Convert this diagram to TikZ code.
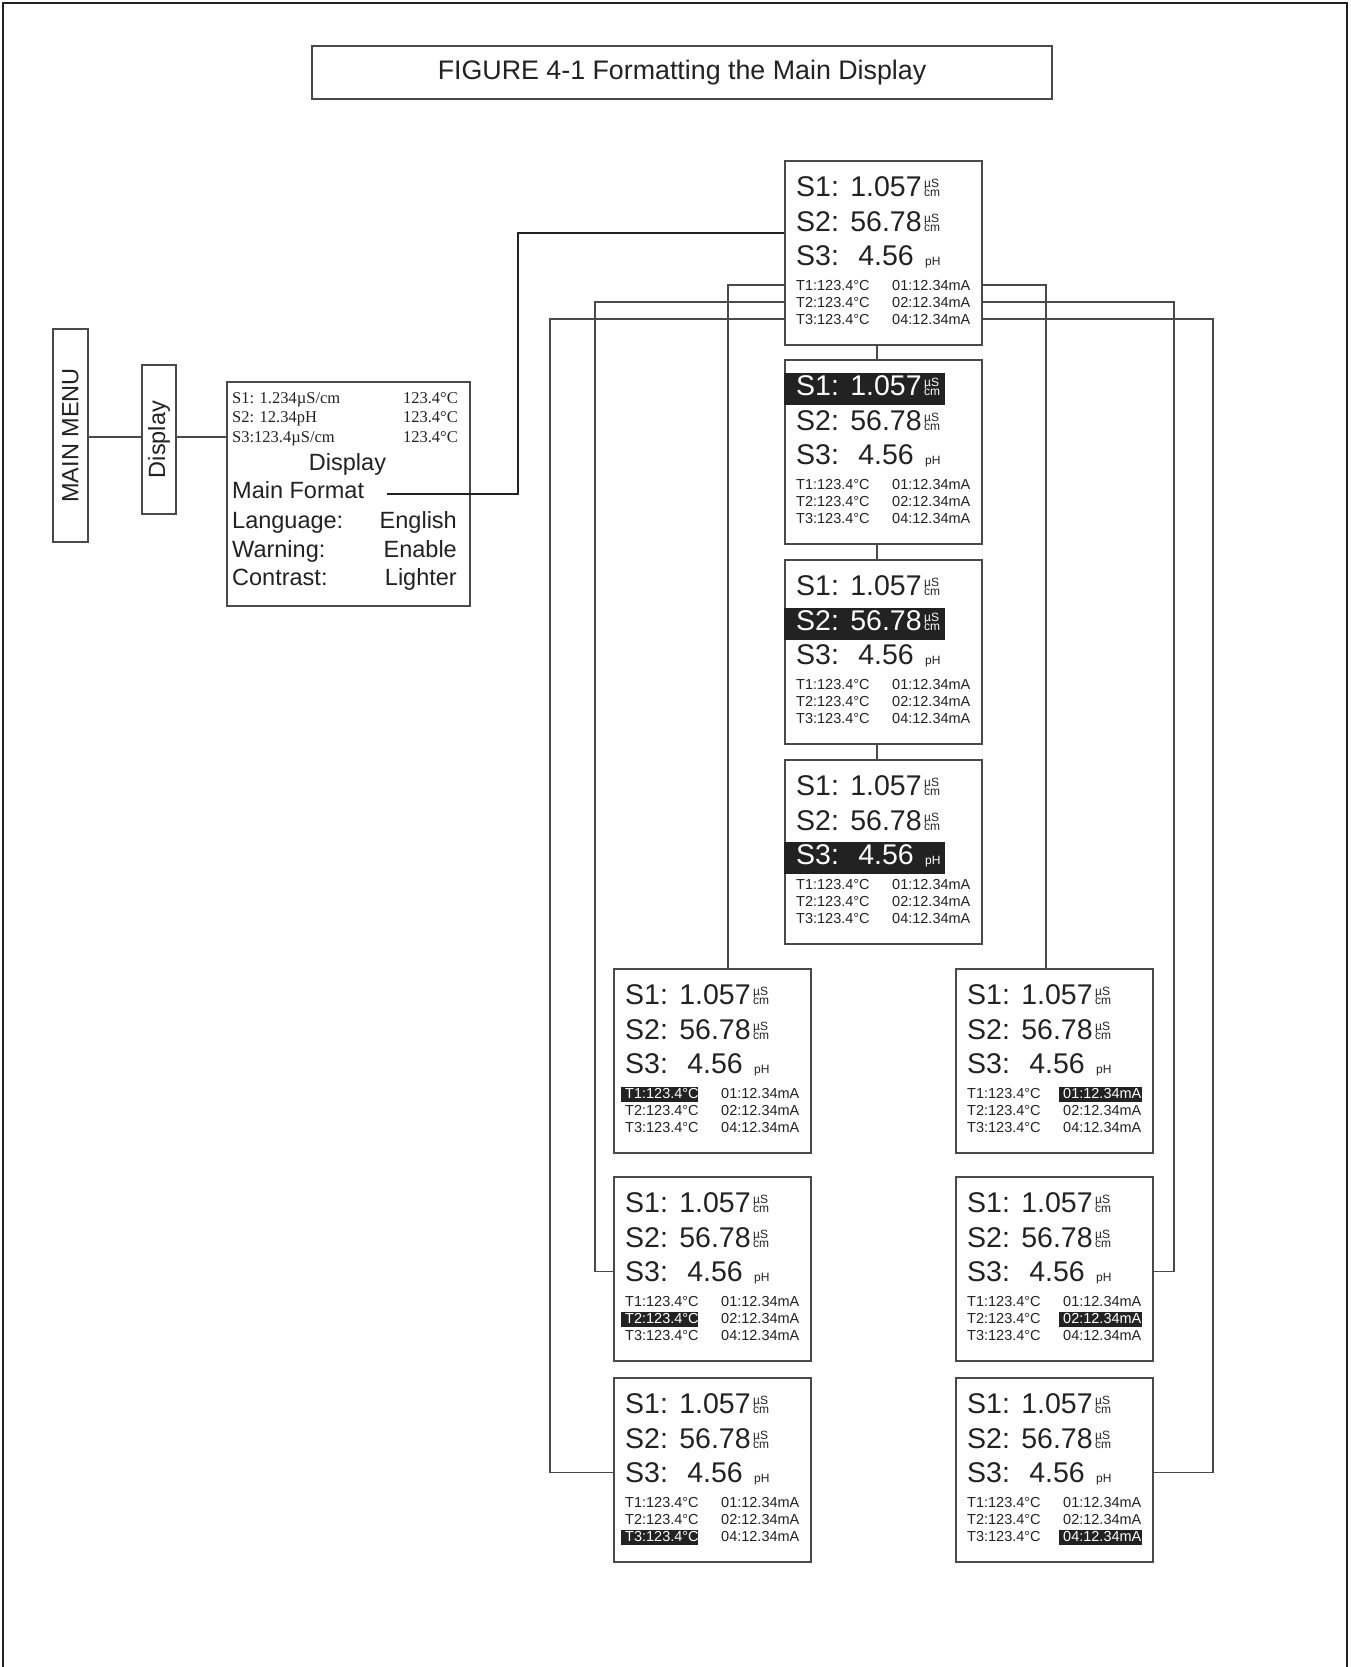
\documentclass[tikz,border=0pt]{standalone}
\usepackage{fontspec}
\setmainfont{Liberation Sans}
\newfontfamily\tnr{Liberation Serif}
\definecolor{ln}{HTML}{4A4A4A}
\definecolor{ink}{HTML}{222222}
\tikzset{
  box/.style={draw=ln, line width=1.6pt, inner sep=0pt, fill=white},
  lcdbox/.style={box, minimum width=197, minimum height=184, anchor=north west},
  big/.style={font=\fontsize{28.5}{28.5}\selectfont, inner sep=0pt},
  unit/.style={font=\fontsize{12}{12}\selectfont, inner sep=0pt, anchor=base west},
  small/.style={font=\fontsize{14.5}{14.5}\selectfont, inner sep=0pt, anchor=base west},
  menutxt/.style={font=\fontsize{23.5}{23.5}\selectfont, inner sep=0pt, text=ink},
  sertxt/.style={font=\tnr\fontsize{16.5}{16.5}\selectfont, inner sep=0pt, text=ink},
  conn/.style={draw=ln, line width=1.4pt},
  heavy/.style={draw=ink, line width=2.4pt},
}
\newcommand\lcd[4]{%
  \def\cSa{ink}\def\cSb{ink}\def\cSc{ink}\def\cTa{ink}\def\cTb{ink}\def\cTc{ink}\def\cOa{ink}\def\cOb{ink}\def\cOc{ink}%
  \ifcase#4\or\def\cSa{white}\or\def\cSb{white}\or\def\cSc{white}\or\def\cTa{white}\or\def\cTb{white}\or\def\cTc{white}\or\def\cOa{white}\or\def\cOb{white}\or\def\cOc{white}\fi
  \begin{scope}[shift={(#2,#3)}]
    \node[lcdbox] (#1) at (0,0) {};
    \ifcase#4\or
      \fill[ink] (0,14) rectangle (161,46);\or
      \fill[ink] (0,49) rectangle (161,81);\or
      \fill[ink] (0,83) rectangle (161,115);\or
      \fill[ink] (8,119) rectangle (85,134);\or
      \fill[ink] (8,136) rectangle (85,151);\or
      \fill[ink] (8,153) rectangle (85,168);\or
      \fill[ink] (104,119) rectangle (187,134);\or
      \fill[ink] (104,136) rectangle (187,151);\or
      \fill[ink] (104,153) rectangle (187,168);\fi
    \node[big,anchor=base west,text=\cSa] (#1-s1) at (12,36) {S1:};
    \node[big,anchor=base,text=\cSa] (#1-v1) at (102,36) {1.057};
    \node[unit,text=\cSa] (#1-u1a) at (140,27) {µS};
    \node[unit,text=\cSa] (#1-u1b) at (140,36) {cm};
    \node[big,anchor=base west,text=\cSb] (#1-s2) at (12,71) {S2:};
    \node[big,anchor=base,text=\cSb] (#1-v2) at (102,71) {56.78};
    \node[unit,text=\cSb] (#1-u2a) at (140,62) {µS};
    \node[unit,text=\cSb] (#1-u2b) at (140,71) {cm};
    \node[big,anchor=base west,text=\cSc] (#1-s3) at (12,105) {S3:};
    \node[big,anchor=base,text=\cSc] (#1-v3) at (102,105) {4.56};
    \node[unit,text=\cSc] (#1-u3) at (141,105) {pH};
    \node[small,text=\cTa] (#1-t1) at (12,130) {T1:123.4°C};
    \node[small,text=\cTb] (#1-t2) at (12,147) {T2:123.4°C};
    \node[small,text=\cTc] (#1-t3) at (12,164) {T3:123.4°C};
    \node[small,text=\cOa] (#1-o1) at (108,130) {01:12.34mA};
    \node[small,text=\cOb] (#1-o2) at (108,147) {02:12.34mA};
    \node[small,text=\cOc] (#1-o3) at (108,164) {04:12.34mA};
  \end{scope}}
\begin{document}
\begin{tikzpicture}[x=1pt,y=-1pt]
\useasboundingbox (0,0) rectangle (1350,1667);
\fill[white] (0,0) rectangle (1350,1667);
% outer frame
\draw[draw=ink, line width=2.6pt] (3,1667) -- (3,3) -- (1347,3) -- (1347,1667);
% title
\node[box, minimum width=740, minimum height=53, font=\fontsize{26.8}{26.8}\selectfont, text=ink] (title) at (682,72.5) {FIGURE 4-1 Formatting the Main Display};
% main menu and display tabs
\node[box, minimum width=35, minimum height=213] (mm) at (70.5,435.5) {};
\node[menutxt, rotate=90] (mmt) at (mm.center) {MAIN MENU};
\node[box, minimum width=34, minimum height=149] (disp) at (159,439.5) {};
\node[menutxt, rotate=90] (dispt) at (disp.center) {Display};
% menu screen
\node[box, minimum width=243, minimum height=224, anchor=north west] (menu) at (226,381) {};
\node[sertxt, anchor=base west] (m1) at (232,403) {S1: 1.234µS/cm};
\node[sertxt, anchor=base east] (m1r) at (458,403) {123.4°C};
\node[sertxt, anchor=base west] (m2) at (232,422) {S2: 12.34pH};
\node[sertxt, anchor=base east] (m2r) at (458,422) {123.4°C};
\node[sertxt, anchor=base west] (m3) at (232,442) {S3:123.4µS/cm};
\node[sertxt, anchor=base east] (m3r) at (458,442) {123.4°C};
\node[menutxt, anchor=base] (mdisp) at (347.5,470) {Display};
\node[menutxt, anchor=base west] (mf) at (232,498) {Main Format};
\node[menutxt, anchor=base west] (mlang) at (232,528) {Language:};
\node[menutxt, anchor=base east] (mlangv) at (457,528) {English};
\node[menutxt, anchor=base west] (mwarn) at (232,557) {Warning:};
\node[menutxt, anchor=base east] (mwarnv) at (457,557) {Enable};
\node[menutxt, anchor=base west] (mcon) at (232,585) {Contrast:};
\node[menutxt, anchor=base east] (mconv) at (457,585) {Lighter};
% LCD screens
\lcd{A}{784}{160}{0}
\lcd{B}{784}{359}{1}
\lcd{C}{784}{559}{2}
\lcd{D}{784}{759}{3}
\lcd{E}{613}{968}{4}
\lcd{F}{613}{1176}{5}
\lcd{G}{613}{1377}{6}
\lcd{H}{955}{968}{7}
\lcd{I}{955}{1176}{8}
\lcd{J}{955}{1377}{9}
% connectors
\coordinate (j1) at (0,437);
\draw[conn] (mm.east |- j1) -- (disp.west |- j1);
\draw[conn] (disp.east |- j1) -- (menu.west |- j1);
\coordinate (mfs) at (387,494);
\coordinate (mfb) at (518,233);
\draw[heavy] (mfs) -| (mfb) -- (A.west |- mfb);
\coordinate (cx) at (877,0);
\draw[conn] (A.south -| cx) -- (B.north -| cx);
\draw[conn] (B.south -| cx) -- (C.north -| cx);
\draw[conn] (C.south -| cx) -- (D.north -| cx);
\coordinate (l1) at (728,0);
\coordinate (l2) at (595,0);
\coordinate (l3) at (550,0);
\coordinate (r1) at (1046,0);
\coordinate (r2) at (1174,0);
\coordinate (r3) at (1213,0);
\draw[conn] (A.west |- A-t1) -| (E.north -| l1);
\draw[conn] (A.west |- A-t2) -| (l2 |- F-s3) -- (F.west |- F-s3);
\draw[conn] (A.west |- A-t3) -| (l3 |- G-s3) -- (G.west |- G-s3);
\draw[conn] (A.east |- A-o1) -| (H.north -| r1);
\draw[conn] (A.east |- A-o2) -| (r2 |- I-s3) -- (I.east |- I-s3);
\draw[conn] (A.east |- A-o3) -| (r3 |- J-s3) -- (J.east |- J-s3);
\end{tikzpicture}
\end{document}
